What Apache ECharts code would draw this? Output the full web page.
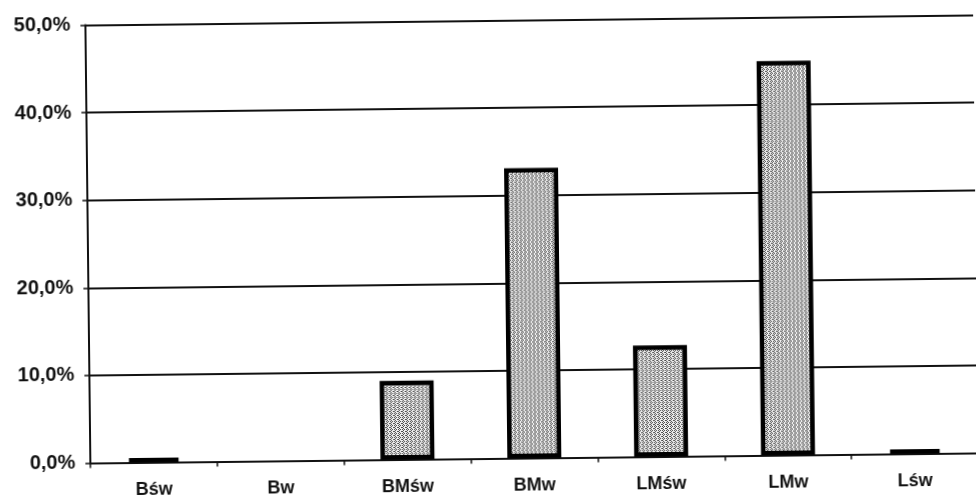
<!DOCTYPE html>
<html>
<head>
<meta charset="utf-8">
<script src="https://cdn.jsdelivr.net/npm/echarts@6/dist/echarts.min.js"></script>
<style>
  html, body { margin: 0; padding: 0; background: #fff; overflow: hidden; }
  #chart { width: 976px; height: 503px; background: #fff; transform: rotate(-0.65deg); transform-origin: 50% 50%; }
</style>
</head>
<body>
<div id="chart"></div>
<script>
// Share of each group (%)
const categories = ['Bśw', 'Bw', 'BMśw', 'BMw', 'LMśw', 'LMw', 'Lśw'];
const shares = [0.5, 0, 9.0, 33.1, 12.7, 45.0, 0.5];
const yTicks = [0, 10, 20, 30, 40, 50];

// Dotted light-grey fill for the bars
function stipple() {
  const c = document.createElement('canvas');
  c.width = 4; c.height = 4;
  const g = c.getContext('2d');
  g.fillStyle = '#f2f2f2';
  g.fillRect(0, 0, 4, 4);
  g.fillStyle = '#4a4a4a';
  [[0, 0], [2, 0], [1, 1], [3, 2], [0, 2], [1, 3]].forEach(p => g.fillRect(p[0], p[1], 1, 1));
  return c;
}

const chart = echarts.init(document.getElementById('chart'), null, { renderer: 'canvas' });
const fmt = v => v.toFixed(1).replace('.', ',') + '%';
const font = 'Liberation Sans, Arial, sans-serif';

chart.setOption({
  animation: false,
  backgroundColor: '#fff',
  grid: { left: 88, top: 20.5, width: 889, height: 438 },
  xAxis: {
    type: 'category',
    data: categories,
    boundaryGap: true,
    axisLine: { lineStyle: { color: '#111', width: 2 } },
    axisTick: { show: true, length: 5, lineStyle: { color: '#111', width: 1.5 } },
    axisLabel: {
      margin: 19,
      color: '#111',
      fontFamily: font,
      fontWeight: 'bold',
      fontSize: 18
    }
  },
  yAxis: {
    type: 'value',
    min: yTicks[0],
    max: yTicks[yTicks.length - 1],
    interval: 10,
    axisLine: { show: true, lineStyle: { color: '#111', width: 2 } },
    axisTick: { show: true, length: 5, lineStyle: { color: '#111', width: 1.5 } },
    splitLine: { show: true, lineStyle: { color: '#111', width: 2 } },
    axisLabel: {
      margin: 15,
      color: '#111',
      fontFamily: font,
      fontWeight: 'bold',
      fontSize: 20,
      formatter: fmt
    }
  },
  series: [{
    type: 'bar',
    barWidth: 54,
    data: shares.map(v => v === 0 ? { value: v, itemStyle: { borderWidth: 0 } } : v),
    itemStyle: {
      color: { image: stipple(), repeat: 'repeat' },
      borderColor: '#000',
      borderWidth: 4.5
    }
  }]
});
</script>
</body>
</html>
